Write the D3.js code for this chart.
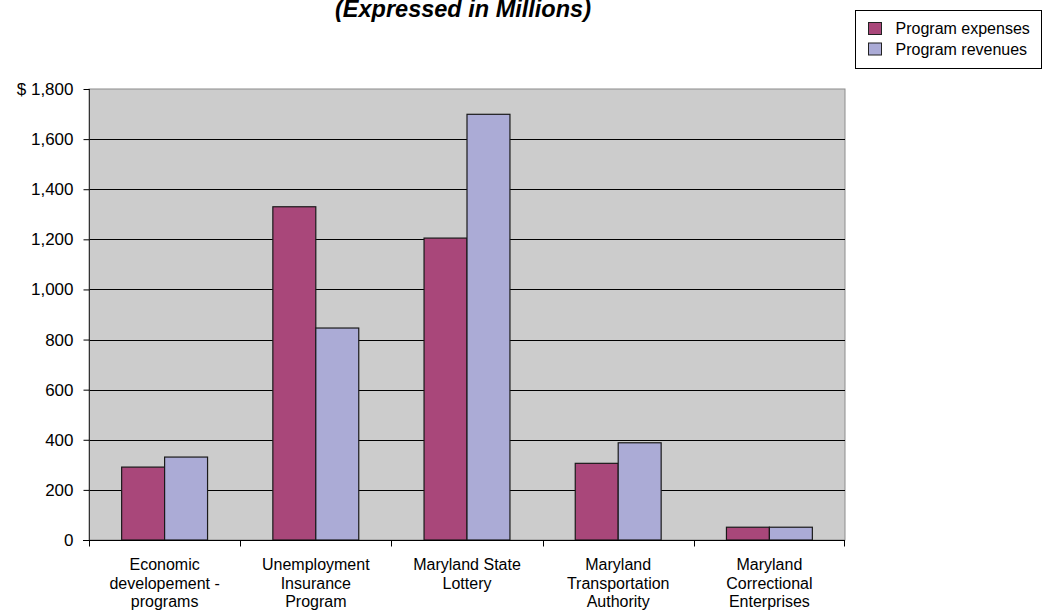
<!DOCTYPE html>
<html>
<head>
<meta charset="utf-8">
<script src="https://cdn.jsdelivr.net/npm/d3@7"></script>
<style>
  body { margin: 0; background: #fff; }
  svg { display: block; font-family: "Liberation Sans", Arial, sans-serif; }
</style>
</head>
<body>
<div id="chart"></div>
<script>
// Chart values (millions of dollars)
var categories = [
  "Economic developement - programs",
  "Unemployment Insurance Program",
  "Maryland State Lottery",
  "Maryland Transportation Authority",
  "Maryland Correctional Enterprises"
];
var categoryLines = [
  ["Economic", "developement -", "programs"],
  ["Unemployment", "Insurance", "Program"],
  ["Maryland State", "Lottery"],
  ["Maryland", "Transportation", "Authority"],
  ["Maryland", "Correctional", "Enterprises"]
];
var seriesNames = ["Program expenses", "Program revenues"];
var expenses = [291, 1330, 1205, 306, 51];
var revenues = [331, 846, 1699, 388, 51];
var yTicks = [0, 200, 400, 600, 800, 1000, 1200, 1400, 1600, 1800];
var titleText = "(Expressed in Millions)";

var colors = ["#A9477A", "#ABABD6"];

var svgWidth = 1042, svgHeight = 610;
var margin = { top: 89, right: 197, bottom: 70, left: 89 };
var chartWidth = svgWidth - margin.left - margin.right;
var chartHeight = svgHeight - margin.top - margin.bottom;

var svg = d3.select("#chart").append("svg")
  .attr("width", svgWidth)
  .attr("height", svgHeight);

// title, sitting right at the top edge as in the reference
svg.append("text")
  .attr("x", 463)
  .attr("y", 17)
  .attr("text-anchor", "middle")
  .attr("font-size", "23.5px")
  .attr("font-weight", "bold")
  .attr("font-style", "italic")
  .attr("fill", "#000")
  .text(titleText);

var chartGroup = svg.append("g")
  .attr("transform", `translate(${margin.left}, ${margin.top})`);

var xScale = d3.scaleBand()
  .domain(categories)
  .range([0, chartWidth])
  .padding(0);

var innerScale = d3.scaleBand()
  .domain(seriesNames)
  .range([0, xScale.bandwidth()])
  .paddingInner(0)
  .paddingOuter(0.76);

var yScale = d3.scaleLinear()
  .domain([0, 1800])
  .range([chartHeight, 0]);

// plot background
chartGroup.append("rect")
  .attr("width", chartWidth)
  .attr("height", chartHeight)
  .attr("fill", "#CCCCCC")
  .attr("stroke", "#8c8c8c")
  .attr("stroke-width", 1);

// gridlines
chartGroup.selectAll(".grid")
  .data(yTicks.filter(d => d > 0 && d < 1800))
  .enter()
  .append("line")
  .attr("x1", 0)
  .attr("x2", chartWidth)
  .attr("y1", d => Math.round(yScale(d)) + 0.5)
  .attr("y2", d => Math.round(yScale(d)) + 0.5)
  .attr("stroke", "#000")
  .attr("stroke-width", 1);

// bars
var seriesData = [expenses, revenues];
var groups = chartGroup.selectAll(".cat")
  .data(categories)
  .enter()
  .append("g")
  .attr("transform", d => `translate(${xScale(d)},0)`);

groups.selectAll("rect")
  .data((d, i) => seriesNames.map((s, j) => ({ series: s, value: seriesData[j][i], idx: j })))
  .enter()
  .append("rect")
  .attr("x", d => innerScale(d.series))
  .attr("y", d => yScale(d.value))
  .attr("width", innerScale.bandwidth())
  .attr("height", d => chartHeight - yScale(d.value))
  .attr("fill", d => colors[d.idx])
  .attr("stroke", "#1a1a1a")
  .attr("stroke-width", 1.2);

// y axis
var yAxis = d3.axisLeft(yScale)
  .tickValues(yTicks)
  .tickSize(6)
  .tickPadding(10)
  .tickFormat(d => (d === 1800 ? "$ " : "") + d3.format(",")(d));

var yAxisG = chartGroup.append("g")
  .attr("transform", "translate(0.5,0)")
  .call(yAxis);
yAxisG.select(".domain").attr("stroke", "#333").attr("d", `M0,0V${chartHeight}`);
yAxisG.selectAll(".tick line").attr("stroke", "#000");
yAxisG.selectAll("text")
  .attr("font-size", "17px")
  .attr("font-family", "Liberation Sans, Arial, sans-serif")
  .attr("fill", "#000");

// x axis line with ticks at category boundaries
var xAxisG = chartGroup.append("g")
  .attr("transform", `translate(0,${chartHeight + 0.5})`);
xAxisG.append("line")
  .attr("x1", -6).attr("x2", chartWidth)
  .attr("stroke", "#000");
xAxisG.selectAll(".xtick")
  .data(categories.concat(["end"]))
  .enter()
  .append("line")
  .attr("x1", (d, i) => i < categories.length ? Math.round(xScale(d)) + 0.5 : chartWidth - 0.5)
  .attr("x2", (d, i) => i < categories.length ? Math.round(xScale(d)) + 0.5 : chartWidth - 0.5)
  .attr("y1", 0).attr("y2", 6)
  .attr("stroke", "#000");

// category labels
var labelG = chartGroup.selectAll(".xlabel")
  .data(categories)
  .enter()
  .append("text")
  .attr("text-anchor", "middle")
  .attr("font-size", "16px")
  .attr("fill", "#000")
  .attr("transform", d => `translate(${xScale(d) + xScale.bandwidth() / 2},${chartHeight + 30})`);

labelG.selectAll("tspan")
  .data((d, i) => categoryLines[i])
  .enter()
  .append("tspan")
  .attr("x", 0)
  .attr("y", (d, i) => i * 18.5)
  .text(d => d);

// legend
var legend = svg.append("g").attr("transform", "translate(855.5,10.5)");
legend.append("rect")
  .attr("width", 186)
  .attr("height", 58)
  .attr("fill", "#fff")
  .attr("stroke", "#000");

var legendItems = legend.selectAll(".li")
  .data(seriesNames)
  .enter()
  .append("g")
  .attr("transform", (d, i) => `translate(13,${12 + i * 20.5})`);

legendItems.append("rect")
  .attr("width", 13)
  .attr("height", 12)
  .attr("fill", (d, i) => colors[i])
  .attr("stroke", "#222");

legendItems.append("text")
  .attr("x", 27)
  .attr("y", 11.5)
  .attr("font-size", "16px")
  .attr("fill", "#000")
  .text(d => d);
</script>
</body>
</html>
